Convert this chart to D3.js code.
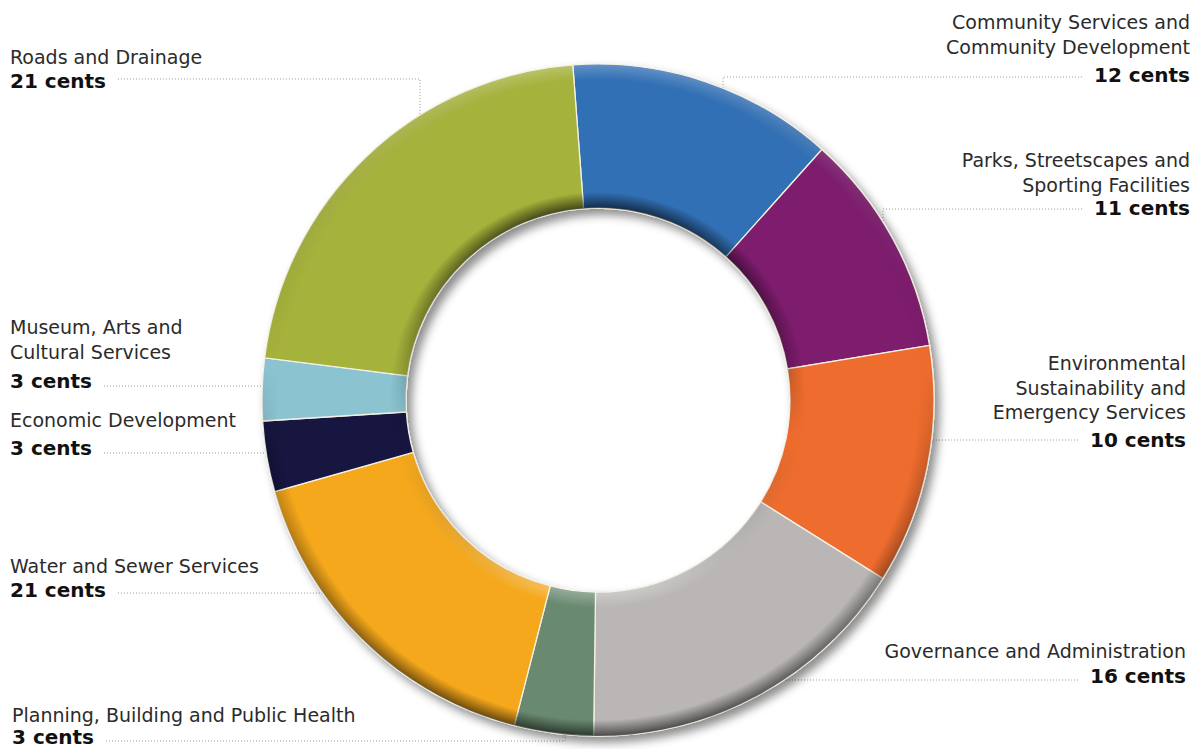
<!DOCTYPE html>
<html>
<head>
<meta charset="utf-8">
<script src="https://cdnjs.cloudflare.com/ajax/libs/d3/7.8.5/d3.min.js"></script>
<style>
body { margin: 0; background: #fff; }
svg { display: block; font-family: "DejaVu Sans", sans-serif; }
</style>
</head>
<body>
<svg id="chart"></svg>
<script>
// clockwise from the top
var labelLines = [
	["Community Services and", "Community Development"],
	["Parks, Streetscapes and", "Sporting Facilities"],
	["Environmental", "Sustainability and", "Emergency Services"],
	["Governance and Administration"],
	["Planning, Building and Public Health"],
	["Water and Sewer Services"],
	["Economic Development"],
	["Museum, Arts and", "Cultural Services"],
	["Roads and Drainage"]
];
var cents = [12, 11, 10, 16, 3, 21, 3, 3, 21];
// share of the ring each slice takes in the picture (percent)
var shares = [12.8, 10.8, 11.5, 16.3, 3.8, 16.6, 3.4, 3.0, 21.8];
var colors = ["#3170b5", "#7e1f6e", "#ee6c2d", "#b9b6b5", "#6a8a70", "#f5a81b", "#151740", "#8bc3d1", "#a5b23b"];

// where each label sits (text anchor point, first baseline, leader line y, elbow)
var labelLayout = [
	{side: "right", x: 1190, y: 29, gap: 28, ly: 77, elbowX: 723},
	{side: "right", x: 1190, y: 167, gap: 23, ly: 209, elbowX: 883},
	{side: "right", x: 1186, y: 370, gap: 28, ly: 440},
	{side: "right", x: 1186, y: 658, gap: 25, ly: 680},
	{side: "left", x: 12, y: 722, gap: 22, ly: 741, elbowX: 565},
	{side: "left", x: 10, y: 573, gap: 24, ly: 593},
	{side: "left", x: 10, y: 427, gap: 28, ly: 453},
	{side: "left", x: 10, y: 334, gap: 29, ly: 386},
	{side: "left", x: 10, y: 64, gap: 24, ly: 79, elbowX: 420}
];

var width = 1195, height = 749;
var cx = 598, cy = 400;
var outerR = 336, innerR = 192;
var lineStep = 24.5;
var startAngle = -4.3 * Math.PI / 180;
var band = 16;

var svg = d3.select("#chart")
	.attr("width", width)
	.attr("height", height);

var defs = svg.append("defs");

var shadow = defs.append("filter")
	.attr("id", "shadow")
	.attr("x", "-10%").attr("y", "-10%")
	.attr("width", "125%").attr("height", "125%");
shadow.append("feDropShadow")
	.attr("dx", 5).attr("dy", 6)
	.attr("stdDeviation", 5)
	.attr("flood-color", "#000")
	.attr("flood-opacity", 0.45);

// vertical light for the bevel bands (coordinates relative to the ring centre)
var outerLight = defs.append("linearGradient")
	.attr("id", "outerLight")
	.attr("gradientUnits", "userSpaceOnUse")
	.attr("x1", 0).attr("y1", -outerR)
	.attr("x2", 0).attr("y2", outerR);
outerLight.append("stop").attr("offset", 0).attr("stop-color", "#fff").attr("stop-opacity", 0.25);
outerLight.append("stop").attr("offset", 0.45).attr("stop-color", "#000").attr("stop-opacity", 0);
outerLight.append("stop").attr("offset", 1).attr("stop-color", "#000").attr("stop-opacity", 0.6);

var innerLight = defs.append("linearGradient")
	.attr("id", "innerLight")
	.attr("gradientUnits", "userSpaceOnUse")
	.attr("x1", 0).attr("y1", -innerR)
	.attr("x2", 0).attr("y2", innerR);
innerLight.append("stop").attr("offset", 0).attr("stop-color", "#000").attr("stop-opacity", 0.6);
innerLight.append("stop").attr("offset", 0.6).attr("stop-color", "#000").attr("stop-opacity", 0);
innerLight.append("stop").attr("offset", 1).attr("stop-color", "#fff").attr("stop-opacity", 0.3);

var outerFade = defs.append("radialGradient")
	.attr("id", "outerFade")
	.attr("gradientUnits", "userSpaceOnUse")
	.attr("cx", 0).attr("cy", 0).attr("r", outerR);
outerFade.append("stop").attr("offset", (outerR - band) / outerR).attr("stop-color", "#000");
outerFade.append("stop").attr("offset", 1).attr("stop-color", "#fff");

var innerFade = defs.append("radialGradient")
	.attr("id", "innerFade")
	.attr("gradientUnits", "userSpaceOnUse")
	.attr("cx", 0).attr("cy", 0).attr("r", outerR);
innerFade.append("stop").attr("offset", innerR / outerR).attr("stop-color", "#fff");
innerFade.append("stop").attr("offset", (innerR + band) / outerR).attr("stop-color", "#000");

defs.append("mask").attr("id", "outerMask")
	.attr("maskUnits", "userSpaceOnUse")
	.attr("x", -cx).attr("y", -cy).attr("width", width).attr("height", height)
	.append("rect").attr("x", -cx).attr("y", -cy)
	.attr("width", width).attr("height", height).attr("fill", "url(#outerFade)");
defs.append("mask").attr("id", "innerMask")
	.attr("maskUnits", "userSpaceOnUse")
	.attr("x", -cx).attr("y", -cy).attr("width", width).attr("height", height)
	.append("rect").attr("x", -cx).attr("y", -cy)
	.attr("width", width).attr("height", height).attr("fill", "url(#innerFade)");

// leader lines
function leaderPoints(i, textEnd) {
	var L = labelLayout[i];
	var pts = [[textEnd, L.ly]];
	if (L.elbowX != null) {
		var dx = L.elbowX - cx;
		var dy = Math.sqrt(outerR * outerR - dx * dx);
		pts.push([L.elbowX, L.ly]);
		pts.push([L.elbowX, L.ly < cy ? cy - dy : cy + dy]);
	} else {
		var dy2 = L.ly - cy;
		var dx2 = Math.sqrt(outerR * outerR - dy2 * dy2);
		pts.push([L.side == "left" ? cx - dx2 : cx + dx2, L.ly]);
	}
	return pts;
}

var leaders = svg.append("g").attr("class", "leaders");
var labels = svg.append("g").attr("class", "labels");

labelLines.forEach(function(lines, i) {
	var L = labelLayout[i];
	var anchor = L.side == "left" ? "start" : "end";
	var g = labels.append("g");
	lines.forEach(function(line, j) {
		g.append("text")
			.attr("x", L.x)
			.attr("y", L.y + j * lineStep)
			.attr("text-anchor", anchor)
			.style("font-size", "19px")
			.style("fill", "#2b2b2b")
			.text(line);
	});
	var bold = g.append("text")
		.attr("x", L.x)
		.attr("y", L.y + (lines.length - 1) * lineStep + L.gap)
		.attr("text-anchor", anchor)
		.style("font-size", "20px")
		.style("font-weight", "bold")
		.style("fill", "#111")
		.text(cents[i] + " cents");
	var w = bold.node().getComputedTextLength();
	var textEnd = L.side == "left" ? L.x + w + 12 : L.x - w - 12;

	leaders.append("path")
		.attr("d", d3.line()(leaderPoints(i, textEnd)))
		.attr("fill", "none")
		.attr("stroke", "#9a9a9a")
		.attr("stroke-width", 1)
		.attr("stroke-dasharray", "1,2");
});

// donut
var pie = d3.pie()
	.sort(null)
	.startAngle(startAngle)
	.endAngle(startAngle + 2 * Math.PI)
	.value(function(d) { return d; });

var arc = d3.arc().innerRadius(innerR).outerRadius(outerR);
var arcs = pie(shares);

var donut = svg.append("g")
	.attr("transform", "translate(" + cx + "," + cy + ")");

donut.append("g")
	.attr("filter", "url(#shadow)")
	.selectAll(".slice")
	.data(arcs)
	.enter().append("path")
	.attr("class", "slice")
	.attr("d", arc)
	.style("fill", function(d, i) { return colors[i]; })
	.style("stroke", "#f4f1e4")
	.style("stroke-width", 1.3);

// bevel shading on the edges of the ring
var ringOuter = d3.arc().innerRadius(outerR - band).outerRadius(outerR).startAngle(0).endAngle(2 * Math.PI);
var ringInner = d3.arc().innerRadius(innerR).outerRadius(innerR + band).startAngle(0).endAngle(2 * Math.PI);

donut.append("path")
	.attr("d", ringOuter())
	.attr("fill", "url(#outerLight)")
	.attr("mask", "url(#outerMask)")
	.attr("pointer-events", "none");

donut.append("path")
	.attr("d", ringInner())
	.attr("fill", "url(#innerLight)")
	.attr("mask", "url(#innerMask)")
	.attr("pointer-events", "none");
</script>
</body>
</html>
